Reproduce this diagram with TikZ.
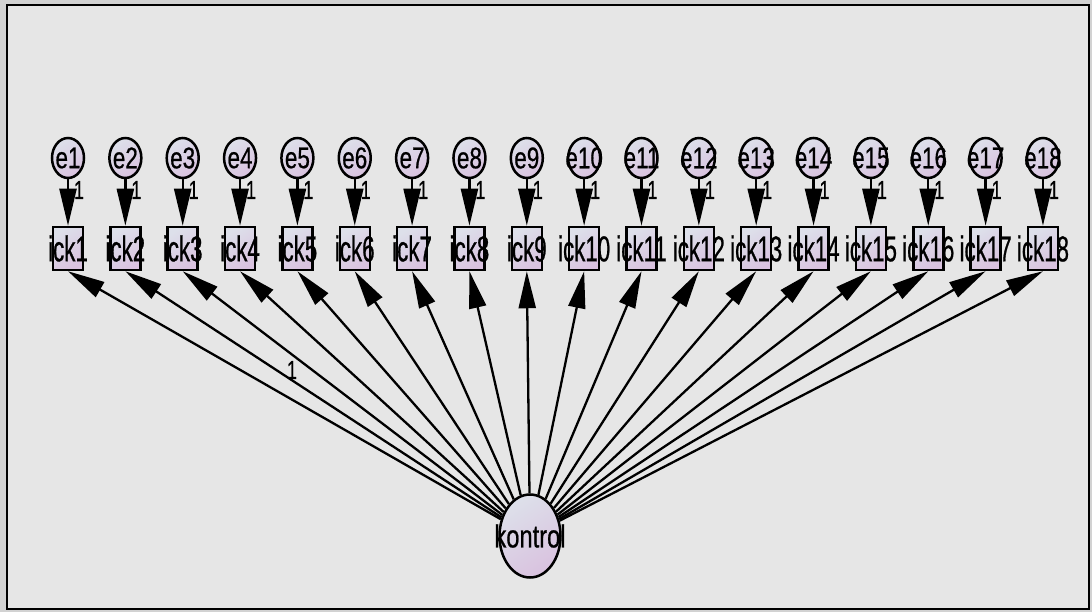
\documentclass[tikz,border=0pt]{standalone}
\usepackage{fontspec}
\usetikzlibrary{shapes.geometric,arrows.meta}
\newfontfamily\ickfont[FakeStretch=0.62,FakeBold=0.6]{Liberation Sans}
\newfontfamily\efont[FakeStretch=0.75,FakeBold=0.6]{Liberation Sans}
\newfontfamily\kfont[FakeStretch=0.74,FakeBold=0.6]{Liberation Sans}
\newfontfamily\onefont[FakeStretch=0.7,FakeBold=0.5]{Liberation Sans}
\definecolor{outerbg}{HTML}{D2D2D2}
\definecolor{innerbg}{HTML}{E6E6E6}
\definecolor{lavA}{HTML}{DDE0EA}
\definecolor{lavB}{HTML}{D9C2DF}
\tikzset{
  latent/.style={ellipse, draw=black, line width=2.5pt, inner sep=0pt,
    top color=lavA, bottom color=lavB, shading angle=35},
  ebox/.style={latent, minimum width=32, minimum height=40,
    label={[etxt]center:#1}},
  kbox/.style={latent, minimum width=61, minimum height=83,
    label={[ktxt]center:#1}},
  obs/.style={rectangle, draw=black, line width=2.5pt, inner sep=0pt,
    minimum width=30, minimum height=43,
    top color=lavA, bottom color=lavB, shading angle=35,
    label={[itxt]center:#1}},
  etxt/.style={font=\efont\fontsize{30}{30}\selectfont, inner sep=0pt, text=black},
  itxt/.style={font=\ickfont\fontsize{36}{36}\selectfont, inner sep=0pt, text=black},
  ktxt/.style={font=\kfont\fontsize{32}{32}\selectfont, inner sep=0pt, text=black},
  onelbl/.style={font=\onefont\fontsize{26}{26}\selectfont, inner sep=0pt, text=black},
  conn/.style={draw=black, line width=2.3pt, -{Triangle[length=37pt,width=17pt]}},
}
\begin{document}
\begin{tikzpicture}[x=1pt,y=-1pt]
\useasboundingbox (0,0) rectangle (1092,612);
\fill[outerbg] (0,0) rectangle (1092,612);
\draw[line width=2.5pt, fill=innerbg] (7,5) rectangle (1089,609);
\node[kbox=kontrol] (kontrol) at (530,536) {};
\foreach \i in {1,...,18} {
  \pgfmathsetmacro{\xx}{68+(\i-1)*57.35}
  \node[ebox=e\i] (e\i) at (\xx,158) {};
  \node[obs=ick\i] (ick\i) at (\xx,248.5) {};
  \draw[conn] (e\i) -- (ick\i);
  \node[onelbl] (one\i) at (\xx+11,190) {1};
  \draw[conn] (kontrol) -- (ick\i.south);
}
\node[onelbl] (onek) at (292,370) {1};
\end{tikzpicture}
\end{document}
